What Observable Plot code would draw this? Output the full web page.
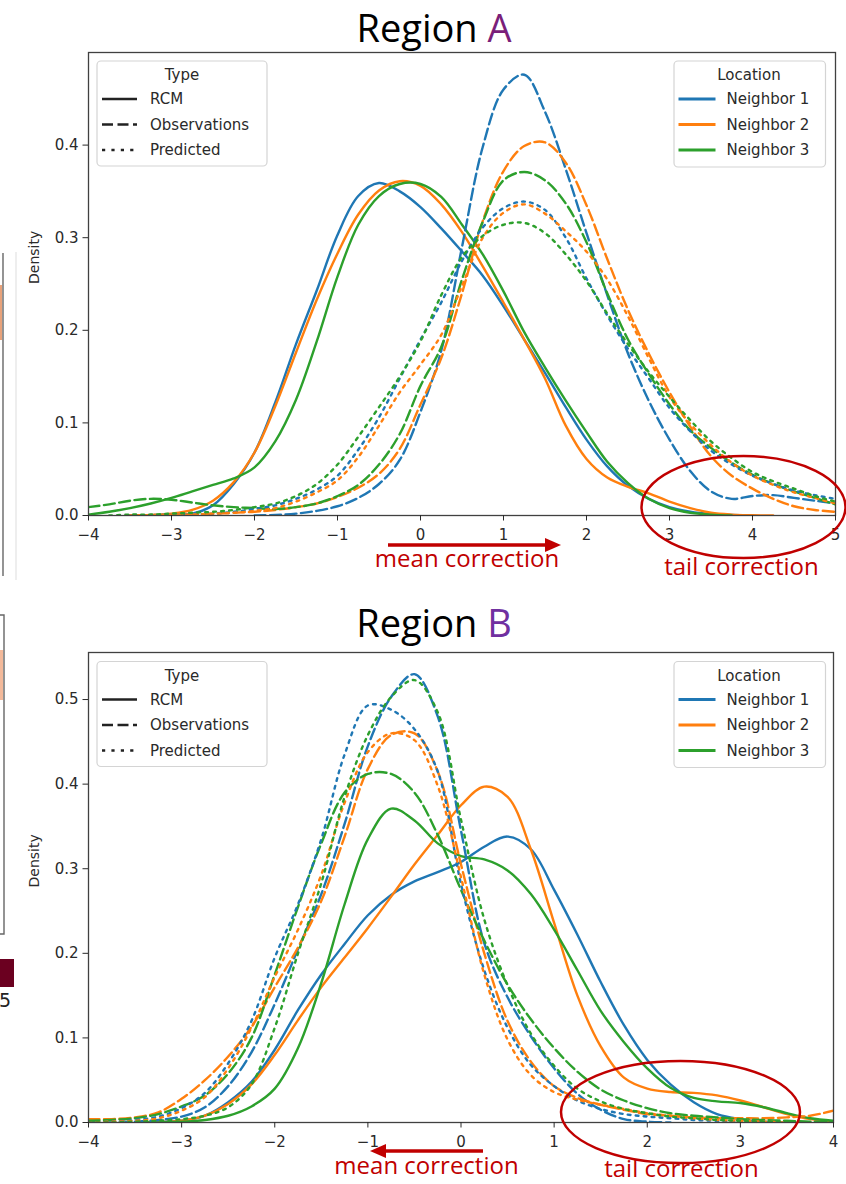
<!DOCTYPE html>
<html><head><meta charset="utf-8">
<script src="https://cdn.jsdelivr.net/npm/d3@7"></script>
<script src="https://cdn.jsdelivr.net/npm/@observablehq/plot@0.6"></script>
<style>
html,body{margin:0;padding:0;background:#fff;}
#root{position:relative;width:846px;height:1184px;overflow:hidden;background:#fff;}
</style></head>
<body><div id="root"></div>
<script>
// ---------- data ----------
const locations = ["Neighbor 1", "Neighbor 2", "Neighbor 3"];
const types = ["RCM", "Observations", "Predicted"];
const colors = ["#1f77b4", "#ff7f0e", "#2ca02c"];

// Region A : density grid on x
const xA = [-4,-3.75,-3.5,-3.25,-3,-2.75,-2.5,-2.25,-2,-1.75,-1.5,-1.25,-1,-0.75,-0.5,-0.25,0,0.25,0.5,0.75,1,1.25,1.5,1.75,2,2.25,2.5,2.75,3,3.25,3.5,3.75,4,4.25,4.5,4.75,5];
const A_rcm_n1 = [null,null,null,0,0.0005,0.002,0.011,0.034,0.068,0.122,0.185,0.243,0.303,0.345,0.359,0.350,0.333,0.310,0.285,0.259,0.226,0.190,0.154,0.117,0.082,0.053,0.032,0.018,0.009,0.004,0.0015,0.0005,0,null,null,null,null];
const A_rcm_n2 = [null,null,0,0.0005,0.002,0.006,0.016,0.036,0.068,0.118,0.176,0.233,0.283,0.325,0.351,0.361,0.356,0.336,0.306,0.269,0.230,0.190,0.148,0.097,0.061,0.041,0.031,0.024,0.015,0.008,0.003,0.001,0.0003,0,null,null,null];
const A_rcm_n3 = [0.001,0.004,0.008,0.013,0.019,0.026,0.033,0.040,0.052,0.080,0.125,0.188,0.258,0.314,0.345,0.358,0.358,0.344,0.314,0.282,0.242,0.198,0.160,0.124,0.090,0.058,0.035,0.018,0.008,0.003,0.001,0,null,null,null,null,null];
const A_obs_n1 = [null,null,null,null,null,null,null,null,0,0.0005,0.002,0.005,0.010,0.019,0.034,0.060,0.112,0.178,0.290,0.398,0.460,0.476,0.436,0.374,0.305,0.238,0.175,0.124,0.082,0.048,0.026,0.018,0.021,0.022,0.019,0.016,0.013];
const A_obs_n2 = [null,null,null,null,0,0.001,0.002,0.003,0.004,0.006,0.009,0.013,0.020,0.030,0.045,0.072,0.120,0.170,0.240,0.318,0.372,0.399,0.403,0.381,0.335,0.277,0.222,0.175,0.133,0.096,0.064,0.043,0.029,0.018,0.010,0.006,0.004];
const A_obs_n3 = [0.009,0.012,0.016,0.018,0.017,0.014,0.011,0.009,0.008,0.007,0.009,0.013,0.021,0.033,0.055,0.088,0.140,0.182,0.255,0.317,0.362,0.371,0.362,0.337,0.295,0.240,0.190,0.153,0.120,0.092,0.073,0.057,0.044,0.034,0.026,0.019,0.012];
const A_pred_n1 = [null,null,0,0.0005,0.001,0.001,0.002,0.004,0.007,0.011,0.018,0.028,0.043,0.071,0.106,0.148,0.190,0.230,0.275,0.311,0.332,0.339,0.330,0.300,0.256,0.216,0.180,0.148,0.116,0.091,0.070,0.055,0.043,0.034,0.027,0.022,0.018];
const A_pred_n2 = [null,null,0,0.0005,0.001,0.001,0.002,0.003,0.005,0.008,0.015,0.025,0.038,0.063,0.097,0.133,0.163,0.195,0.248,0.300,0.327,0.336,0.326,0.307,0.285,0.255,0.215,0.170,0.128,0.099,0.076,0.057,0.043,0.033,0.025,0.019,0.013];
const A_pred_n3 = [null,0,0.001,0.001,0.002,0.003,0.004,0.006,0.009,0.013,0.021,0.034,0.055,0.085,0.117,0.150,0.188,0.238,0.279,0.302,0.314,0.316,0.305,0.282,0.253,0.218,0.185,0.155,0.128,0.103,0.080,0.062,0.047,0.037,0.029,0.021,0.015];

// Region B
const xB = [-4,-3.75,-3.5,-3.25,-3,-2.75,-2.5,-2.25,-2,-1.75,-1.5,-1.25,-1,-0.75,-0.5,-0.25,0,0.25,0.5,0.75,1,1.25,1.5,1.75,2,2.25,2.5,2.75,3,3.25,3.5,3.75,4];
const B_rcm_n1 = [null,null,0,0.0005,0.002,0.008,0.024,0.048,0.086,0.133,0.175,0.211,0.245,0.269,0.285,0.296,0.308,0.326,0.338,0.323,0.275,0.222,0.166,0.115,0.074,0.045,0.024,0.010,0.004,0.001,0,null,null];
const B_rcm_n2 = [null,null,0,0.0005,0.002,0.008,0.022,0.045,0.080,0.121,0.160,0.195,0.230,0.267,0.305,0.340,0.375,0.397,0.385,0.323,0.236,0.150,0.090,0.053,0.040,0.036,0.035,0.032,0.026,0.018,0.010,0.004,0.001];
const B_rcm_n3 = [null,null,0,0.0002,0.0008,0.003,0.008,0.019,0.040,0.088,0.165,0.258,0.335,0.371,0.357,0.330,0.315,0.311,0.298,0.270,0.228,0.180,0.132,0.095,0.064,0.041,0.029,0.025,0.023,0.018,0.011,0.005,0.002];
const B_obs_n1 = [0,0,0.001,0.003,0.007,0.018,0.043,0.083,0.140,0.205,0.270,0.353,0.445,0.503,0.530,0.480,0.345,0.212,0.148,0.102,0.064,0.034,0.015,0.004,0.001,0,null,null,null,null,null,null,null];
const B_obs_n2 = [0.004,0.004,0.006,0.012,0.028,0.050,0.078,0.113,0.160,0.207,0.262,0.338,0.418,0.458,0.460,0.415,0.305,0.200,0.120,0.072,0.043,0.029,0.021,0.015,0.010,0.008,0.006,0.005,0.005,0.005,0.006,0.008,0.014];
const B_obs_n3 = [0.002,0.003,0.005,0.010,0.019,0.032,0.058,0.100,0.175,0.255,0.330,0.390,0.412,0.412,0.390,0.340,0.275,0.215,0.163,0.122,0.088,0.060,0.039,0.026,0.017,0.011,0.008,0.006,0.004,0.003,0.002,0.001,0.001];
const B_pred_n1 = [0,0.001,0.003,0.007,0.017,0.035,0.070,0.120,0.195,0.258,0.335,0.435,0.493,0.488,0.465,0.415,0.282,0.180,0.112,0.068,0.043,0.026,0.016,0.010,0.007,0.005,0.003,0.002,0.001,0,null,null,null];
const B_pred_n2 = [0,0.001,0.002,0.005,0.014,0.030,0.064,0.112,0.172,0.228,0.293,0.378,0.438,0.460,0.452,0.398,0.290,0.175,0.098,0.056,0.036,0.027,0.021,0.016,0.011,0.008,0.005,0.003,0.002,0.001,0,null,null];
const B_pred_n3 = [0,0,0.001,0.002,0.004,0.008,0.018,0.045,0.112,0.200,0.283,0.385,0.458,0.503,0.523,0.485,0.358,0.240,0.162,0.105,0.067,0.040,0.025,0.016,0.011,0.007,0.005,0.003,0.002,0.001,0,null,null];

const ticksA = [-4,-3,-2,-1,0,1,2,3,4,5];
const ticksB = [-4,-3,-2,-1,0,1,2,3,4];
const yTicksA = [0,0.1,0.2,0.3,0.4];
const yTicksB = [0,0.1,0.2,0.3,0.4,0.5];

// ---------- helpers ----------
function rows(xs, seriesList) {
  const out = [];
  seriesList.forEach((s, i) => s.forEach((v, j) => { if (v != null) out.push({x: xs[j], y: v, loc: locations[i]}); }));
  return out;
}
const fmt = d => d < 0 ? "\u2212" + Math.abs(d) : String(d);

function panel({xs, rcm, obs, pred, xDomain, yDomain, xTicks, yTicks, height, marginBottom, marginRight}) {
  const lineOpts = {x: "x", y: "y", z: "loc", stroke: "loc", strokeWidth: 2.4, curve: "catmull-rom", clip: true};
  return Plot.plot({
    width: 846, height,
    marginTop: 52, marginLeft: 88, marginRight, marginBottom,
    style: {fontFamily: "'DejaVu Sans', sans-serif", fontSize: "15px", color: "#2a2a2a", background: "transparent", overflow: "visible"},
    x: {domain: xDomain},
    y: {domain: yDomain},
    color: {domain: locations, range: colors},
    marks: [
      Plot.line(rows(xs, rcm), lineOpts),
      Plot.line(rows(xs, obs), {...lineOpts, strokeDasharray: "11,4.5"}),
      Plot.line(rows(xs, pred), {...lineOpts, strokeDasharray: "2.8,5.2"}),
      Plot.frame({stroke: "#404040", strokeWidth: 1.3}),
      Plot.axisX({ticks: xTicks, tickFormat: fmt, tickSize: 5.5, tickPadding: 8.5, label: null, fontSize: 15}),
      Plot.axisY({ticks: yTicks, tickFormat: d3.format(".1f"), tickSize: 5.5, tickPadding: 4.5, label: null, fontSize: 15}),
      Plot.text(["Density"], {text: d => d, frameAnchor: "left", dx: -54, rotate: -90, fontSize: 14})
    ]
  });
}

const root = document.getElementById("root");
const pA = panel({xs: xA, rcm: [A_rcm_n1, A_rcm_n2, A_rcm_n3], obs: [A_obs_n1, A_obs_n2, A_obs_n3], pred: [A_pred_n1, A_pred_n2, A_pred_n3],
  xDomain: [-4, 5], yDomain: [0, 0.5], xTicks: ticksA, yTicks: yTicksA, height: 545, marginBottom: 30, marginRight: 11});
pA.style.position = "absolute"; pA.style.left = "0px"; pA.style.top = "0px";
root.append(pA);

const pB = panel({xs: xB, rcm: [B_rcm_n1, B_rcm_n2, B_rcm_n3], obs: [B_obs_n1, B_obs_n2, B_obs_n3], pred: [B_pred_n1, B_pred_n2, B_pred_n3],
  xDomain: [-4, 4], yDomain: [0, 0.5556], xTicks: ticksB, yTicks: yTicksB, height: 560, marginBottom: 38, marginRight: 13});
pB.style.position = "absolute"; pB.style.left = "0px"; pB.style.top = "600px";
root.append(pB);

// ---------- overlay: titles, legends, annotations ----------
const ov = d3.create("svg").attr("width", 846).attr("height", 1184)
  .style("position", "absolute").style("left", "0px").style("top", "0px")
  .attr("font-family", "'DejaVu Sans', sans-serif");

function title(y, letter, color) {
  const t = ov.append("text").attr("x", 434).attr("y", y).attr("text-anchor", "middle")
    .attr("font-family", "'Open Sans', sans-serif").attr("font-size", 38).attr("fill", "#000")
    .style("white-space", "pre");
  t.append("tspan").text("Region ");
  t.append("tspan").attr("fill", color).text(letter);
}
title(42, "A", "#7A1F7A");
title(637, "B", "#7030A0");

const dashes = [null, "11,4.5", "3.2,6.2"];
function legends(off) {
  // Type legend
  ov.append("rect").attr("x", 97).attr("y", 61 + off).attr("width", 170).attr("height", 105).attr("rx", 4)
    .attr("fill", "#fff").attr("fill-opacity", 0.85).attr("stroke", "#d4d4d4").attr("stroke-width", 1.2);
  ov.append("text").attr("x", 182).attr("y", 80 + off).attr("text-anchor", "middle").attr("font-size", 15).attr("fill", "#2a2a2a").text("Type");
  types.forEach((t, i) => {
    const yb = 104 + off + i * 25.5;
    ov.append("line").attr("x1", 102).attr("x2", 137).attr("y1", yb - 5).attr("y2", yb - 5)
      .attr("stroke", "#222").attr("stroke-width", 2.6).attr("stroke-dasharray", dashes[i]);
    ov.append("text").attr("x", 150).attr("y", yb).attr("font-size", 15).attr("fill", "#2a2a2a").text(t);
  });
  // Location legend
  ov.append("rect").attr("x", 674).attr("y", 61 + off).attr("width", 151.5).attr("height", 106).attr("rx", 4)
    .attr("fill", "#fff").attr("fill-opacity", 0.85).attr("stroke", "#d4d4d4").attr("stroke-width", 1.2);
  ov.append("text").attr("x", 749).attr("y", 80 + off).attr("text-anchor", "middle").attr("font-size", 15).attr("fill", "#2a2a2a").text("Location");
  locations.forEach((l, i) => {
    const yb = 104 + off + i * 25.5;
    ov.append("line").attr("x1", 678.5).attr("x2", 715.5).attr("y1", yb - 5).attr("y2", yb - 5)
      .attr("stroke", colors[i]).attr("stroke-width", 2.8);
    ov.append("text").attr("x", 726.5).attr("y", yb).attr("font-size", 15).attr("fill", "#2a2a2a").text(l);
  });
}
legends(0);
legends(600.5);

const red = "#C00000";
function note(txt, x, y) {
  ov.append("text").attr("x", x).attr("y", y).attr("text-anchor", "middle")
    .attr("font-family", "'Open Sans', sans-serif").attr("font-size", 24).attr("fill", red).text(txt);
}
// Region A annotations
ov.append("line").attr("x1", 388).attr("x2", 548).attr("y1", 545).attr("y2", 545).attr("stroke", red).attr("stroke-width", 3.5);
ov.append("polygon").attr("points", "561,545 545,538 545,552").attr("fill", red);
note("mean correction", 467, 567);
ov.append("ellipse").attr("cx", 743.5).attr("cy", 507).attr("rx", 102).attr("ry", 51).attr("fill", "none").attr("stroke", red).attr("stroke-width", 2.5);
note("tail correction", 741.5, 575);
// Region B annotations
ov.append("line").attr("x1", 483).attr("x2", 384).attr("y1", 1151).attr("y2", 1151).attr("stroke", red).attr("stroke-width", 3.5);
ov.append("polygon").attr("points", "370,1151 386,1144 386,1158").attr("fill", red);
note("mean correction", 426.5, 1174);
ov.append("ellipse").attr("cx", 680.5).attr("cy", 1112).attr("rx", 119.5).attr("ry", 51).attr("fill", "none").attr("stroke", red).attr("stroke-width", 2.5);
note("tail correction", 681.5, 1177);

// cropped neighbouring figure at the left edge
ov.append("rect").attr("x", 0).attr("y", 285).attr("width", 2).attr("height", 55).attr("fill", "#e8a27a");
ov.append("line").attr("x1", 3).attr("x2", 3).attr("y1", 253).attr("y2", 576).attr("stroke", "#666").attr("stroke-width", 1.4);
ov.append("line").attr("x1", 16).attr("x2", 16).attr("y1", 252).attr("y2", 580).attr("stroke", "#ddd").attr("stroke-width", 1);
ov.append("rect").attr("x", 0).attr("y", 650).attr("width", 3).attr("height", 50).attr("fill", "#f3b99a");
ov.append("path").attr("d", "M0,615H4V934H0").attr("fill", "none").attr("stroke", "#666").attr("stroke-width", 1.4);
ov.append("rect").attr("x", 0).attr("y", 959).attr("width", 14).attr("height", 28).attr("fill", "#6b0020");
ov.append("text").attr("x", -1).attr("y", 1007).attr("font-size", 19).attr("fill", "#222").text("5");

root.append(ov.node());
</script>
</body></html>
